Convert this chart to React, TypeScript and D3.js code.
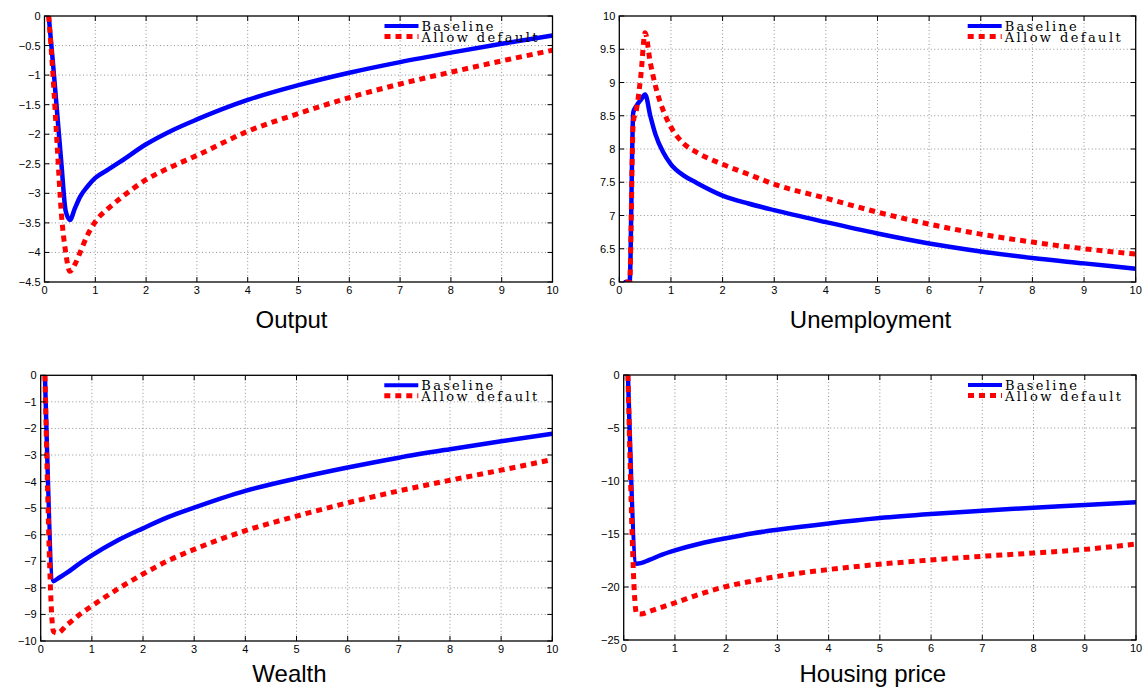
import React from "react";
import * as d3 from "d3";

// ---------- data ----------
const outputX = [0.083, 0.167, 0.25, 0.333, 0.417, 0.5, 0.6, 0.7, 0.85, 1, 1.25, 1.5, 2, 2.5, 3, 4, 5, 6, 7, 8, 9, 10];
const outputBaseline = [0, -0.8, -1.65, -2.5, -3.3, -3.45, -3.25, -3.06, -2.88, -2.74, -2.6, -2.46, -2.17, -1.94, -1.75, -1.42, -1.17, -0.96, -0.78, -0.62, -0.47, -0.33];
const outputDefault = [0, -1.0, -2.2, -3.35, -4.0, -4.32, -4.2, -4.0, -3.7, -3.48, -3.26, -3.08, -2.77, -2.55, -2.36, -1.95, -1.65, -1.38, -1.15, -0.95, -0.76, -0.58];

const unempX = [0.12, 0.2, 0.27, 0.333, 0.417, 0.5, 0.6, 0.7, 0.85, 1, 1.25, 1.5, 2, 2.5, 3, 4, 5, 6, 7, 8, 9, 10];
const unempBaseline = [6.0, 6.0, 8.55, 8.65, 8.74, 8.82, 8.5, 8.22, 7.95, 7.77, 7.6, 7.49, 7.3, 7.18, 7.08, 6.9, 6.73, 6.58, 6.46, 6.36, 6.28, 6.2];
const unempDefault = [6.0, 6.0, 8.4, 8.6, 9.1, 9.75, 9.3, 8.95, 8.58, 8.33, 8.08, 7.95, 7.77, 7.62, 7.47, 7.26, 7.05, 6.87, 6.72, 6.6, 6.5, 6.42];

const wealthX = [0.083, 0.25, 0.333, 0.5, 0.75, 1, 1.5, 2, 2.5, 3, 4, 5, 6, 7, 8, 9, 10];
const wealthBaseline = [0, -7.75, -7.65, -7.45, -7.1, -6.78, -6.22, -5.76, -5.33, -4.98, -4.35, -3.88, -3.47, -3.1, -2.78, -2.48, -2.2];
const wealthDefault = [0, -9.65, -9.7, -9.42, -9.02, -8.68, -8.05, -7.48, -6.97, -6.55, -5.85, -5.3, -4.8, -4.35, -3.95, -3.57, -3.17];

const housingX = [0.083, 0.25, 0.333, 0.5, 0.75, 1, 1.5, 2, 2.5, 3, 4, 5, 6, 7, 8, 9, 10];
const housingBaseline = [0, -17.8, -17.75, -17.45, -16.95, -16.55, -15.9, -15.4, -14.95, -14.6, -14.0, -13.5, -13.12, -12.8, -12.52, -12.27, -12.0];
const housingDefault = [0, -22.5, -22.55, -22.3, -21.9, -21.5, -20.65, -19.95, -19.45, -19.0, -18.35, -17.85, -17.45, -17.1, -16.8, -16.45, -15.95];

const xTicks = [0, 1, 2, 3, 4, 5, 6, 7, 8, 9, 10];
const outputTicks = [0, -0.5, -1, -1.5, -2, -2.5, -3, -3.5, -4, -4.5];
const unempTicks = [6, 6.5, 7, 7.5, 8, 8.5, 9, 9.5, 10];
const wealthTicks = [0, -1, -2, -3, -4, -5, -6, -7, -8, -9, -10];
const housingTicks = [0, -5, -10, -15, -20, -25];

const seriesNames = ["Baseline", "Allow default"];
const titles = ["Output", "Unemployment", "Wealth", "Housing price"];

// ---------- layout ----------
type Panel = {
  id: string;
  title: string;
  xs: number[];
  base: number[];
  def: number[];
  yTicks: number[];
  yDomain: [number, number];
  box: { l: number; r: number; t: number; b: number };
  titleY: number;
};

const panels: Panel[] = [
  { id: "p0", title: titles[0], xs: outputX, base: outputBaseline, def: outputDefault, yTicks: outputTicks, yDomain: [-4.5, 0], box: { l: 44.5, r: 552.5, t: 16, b: 282 }, titleY: 328 },
  { id: "p1", title: titles[1], xs: unempX, base: unempBaseline, def: unempDefault, yTicks: unempTicks, yDomain: [6, 10], box: { l: 619.3, r: 1135.7, t: 16, b: 282 }, titleY: 328 },
  { id: "p2", title: titles[2], xs: wealthX, base: wealthBaseline, def: wealthDefault, yTicks: wealthTicks, yDomain: [-10, 0], box: { l: 40.7, r: 552.3, t: 375.3, b: 641 }, titleY: 682 },
  { id: "p3", title: titles[3], xs: housingX, base: housingBaseline, def: housingDefault, yTicks: housingTicks, yDomain: [-25, 0], box: { l: 623.7, r: 1136, t: 375, b: 640 }, titleY: 682 },
];

const fmt = (v: number) => String(v).replace("-", "\u2212");
const TICK_FONT = "'Liberation Sans', Arial, Helvetica, sans-serif";
const LEG_FONT = "'DejaVu Serif', 'Liberation Serif', serif";
const BLUE = "#0000ff";
const RED = "#ff0000";

function PanelView({ p }: { p: Panel }) {
  const { l, r, t, b } = p.box;
  const x = d3.scaleLinear().domain([0, 10]).range([l, r]);
  const y = d3.scaleLinear().domain(p.yDomain).range([b, t]);
  const line = d3
    .line<number>()
    .x((_, i) => x(p.xs[i]))
    .y((v) => y(v))
    .curve(d3.curveMonotoneX);
  const tl = 5;
  const legLineStart = r - 168;
  const legLineEnd = r - 134;
  const legText = r - 131;
  return (
    <g>
      <defs>
        <clipPath id={`clip-${p.id}`}>
          <rect x={l} y={t} width={r - l} height={b - t} />
        </clipPath>
      </defs>
      {/* grid */}
      <g stroke="#777" strokeWidth={0.8} strokeDasharray="1,2.5">
        {xTicks.slice(1, -1).map((v) => (
          <line key={`gx${v}`} x1={x(v)} x2={x(v)} y1={t} y2={b} />
        ))}
        {p.yTicks
          .filter((v) => v !== p.yDomain[0] && v !== p.yDomain[1])
          .map((v) => (
            <line key={`gy${v}`} x1={l} x2={r} y1={y(v)} y2={y(v)} />
          ))}
      </g>
      {/* lines */}
      <g clipPath={`url(#clip-${p.id})`}>
        <path d={line(p.base) || ""} fill="none" stroke={BLUE} strokeWidth={4.5} strokeLinejoin="round" strokeLinecap="round" />
        <path d={line(p.def) || ""} fill="none" stroke={RED} strokeWidth={5} strokeDasharray="6,5" strokeLinejoin="round" />
      </g>
      {/* ticks */}
      <g stroke="#000" strokeWidth={1}>
        {xTicks.map((v) => (
          <g key={`tx${v}`}>
            <line x1={x(v)} x2={x(v)} y1={b} y2={b - tl} />
            <line x1={x(v)} x2={x(v)} y1={t} y2={t + tl} />
          </g>
        ))}
        {p.yTicks.map((v) => (
          <g key={`ty${v}`}>
            <line x1={l} x2={l + tl} y1={y(v)} y2={y(v)} />
            <line x1={r} x2={r - tl} y1={y(v)} y2={y(v)} />
          </g>
        ))}
      </g>
      <rect x={l} y={t} width={r - l} height={b - t} fill="none" stroke="#000" strokeWidth={1.3} />
      {/* tick labels */}
      <g fontFamily={TICK_FONT} fontSize={11} fill="#000">
        {xTicks.map((v) => (
          <text key={`lx${v}`} x={x(v)} y={b + 12} textAnchor="middle">
            {fmt(v)}
          </text>
        ))}
        {p.yTicks.map((v) => (
          <text key={`ly${v}`} x={l - 4} y={y(v) + 4} textAnchor="end">
            {fmt(v)}
          </text>
        ))}
      </g>
      {/* legend */}
      <line x1={legLineStart} x2={legLineEnd} y1={t + 10} y2={t + 10} stroke={BLUE} strokeWidth={4} />
      <line x1={legLineStart} x2={legLineEnd} y1={t + 20.5} y2={t + 20.5} stroke={RED} strokeWidth={5} strokeDasharray="6,5" />
      <g fontFamily={LEG_FONT} fontSize={13} fill="#000">
        <text x={legText} y={t + 14.5} textLength={72} lengthAdjust="spacing">
          {seriesNames[0]}
        </text>
        <text x={legText} y={t + 25.5} textLength={116} lengthAdjust="spacing">
          {seriesNames[1]}
        </text>
      </g>
      {/* title */}
      <text x={(l + r) / 2 - 7} y={p.titleY} textAnchor="middle" fontFamily={TICK_FONT} fontSize={24} fill="#000">
        {p.title}
      </text>
    </g>
  );
}

export default function App() {
  return (
    <svg
      width={1146}
      height={692}
      style={{ position: "absolute", left: 0, top: 0, background: "#fff" }}
    >
      <rect x={0} y={0} width={1146} height={692} fill="#fff" />
      {panels.map((p) => (
        <PanelView key={p.id} p={p} />
      ))}
    </svg>
  );
}
